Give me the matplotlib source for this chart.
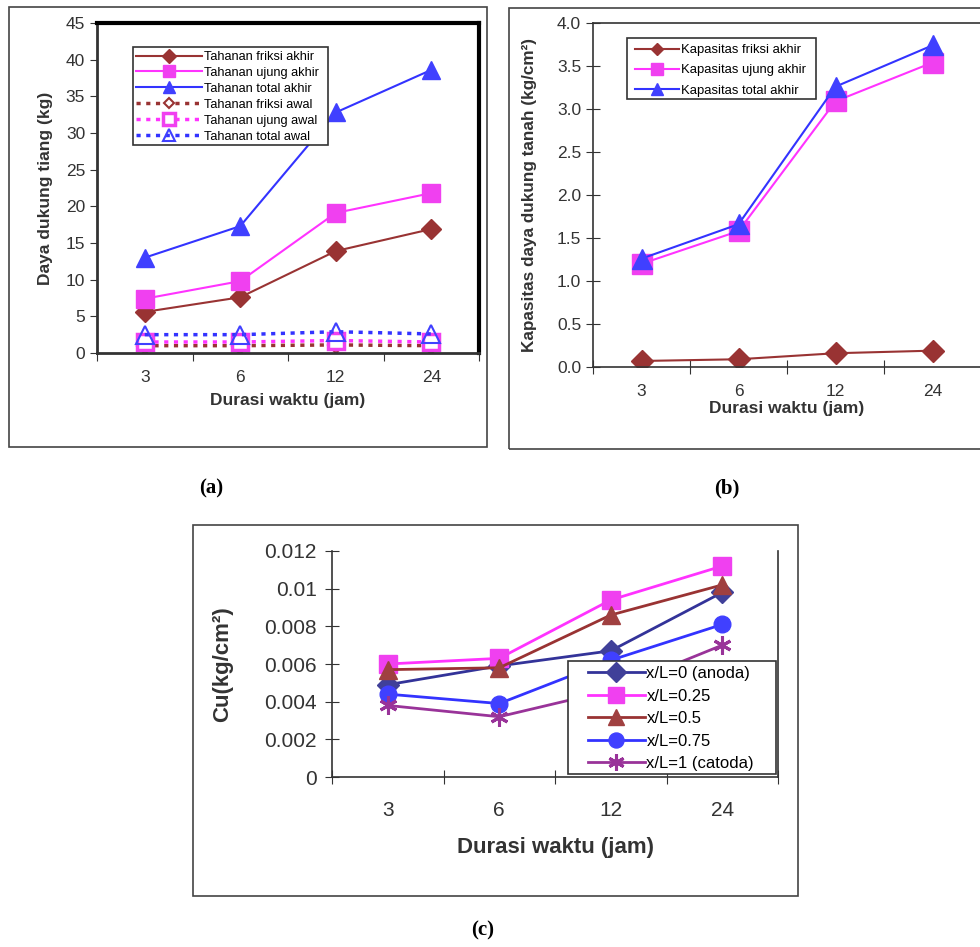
import matplotlib
matplotlib.use("Agg")
import matplotlib.pyplot as plt
from matplotlib.patches import Rectangle

plt.rcParams['font.family'] = ['Liberation Sans', 'DejaVu Sans']

W, H = 980, 947

durasi = ["3", "6", "12", "24"]

# (a) daya dukung tiang (kg)
friksi_akhir = [5.6, 7.6, 13.9, 16.9]
ujung_akhir = [7.4, 9.8, 19.1, 21.8]
total_akhir = [13.0, 17.3, 32.8, 38.6]
friksi_awal = [1.0, 1.0, 1.1, 1.0]
ujung_awal = [1.5, 1.5, 1.7, 1.5]
total_awal = [2.5, 2.5, 2.9, 2.6]

# (b) kapasitas daya dukung tanah (kg/cm2)
kap_friksi = [0.07, 0.09, 0.16, 0.19]
kap_ujung = [1.20, 1.58, 3.09, 3.54]
kap_total = [1.26, 1.66, 3.26, 3.74]

# (c) Cu (kg/cm2)
cu_anoda = [0.0049, 0.0059, 0.0067, 0.0098]
cu_025 = [0.0060, 0.0063, 0.0094, 0.0112]
cu_05 = [0.0057, 0.0058, 0.0086, 0.0102]
cu_075 = [0.0044, 0.0039, 0.0062, 0.0081]
cu_catoda = [0.0038, 0.0032, 0.0046, 0.0070]

BROWN = "#993333"
MAGENTA = "#ff33ff"
BLUE = "#3333ff"
NAVY = "#333399"
PURPLE = "#993399"
GRAY = "#333333"

fig = plt.figure(figsize=(W / 100, H / 100), dpi=100)


def px_axes(l, t, r, b):
    return fig.add_axes([l / W, 1 - b / H, (r - l) / W, (b - t) / H])


def frame(l, t, r, b):
    fig.patches.append(Rectangle((l / W, 1 - b / H), (r - l) / W, (b - t) / H,
                                 transform=fig.transFigure, fill=False,
                                 edgecolor="#444444", lw=1.2, zorder=0))


def boxed_legend(ax, box, anchor, **kw):
    # excel-like legend: white box drawn separately, entries placed inside it
    l, t, r, b = box
    ax.add_patch(Rectangle((l / W, 1 - b / H), (r - l) / W, (b - t) / H,
                           transform=fig.transFigure, facecolor="white", edgecolor=GRAY,
                           lw=1.2, zorder=4.9, clip_on=False))
    ax.legend(loc="upper left", bbox_to_anchor=(anchor[0] / W, 1 - anchor[1] / H),
              bbox_transform=fig.transFigure, frameon=False, borderpad=0,
              borderaxespad=0, handletextpad=0.1, **kw)


def category_axis(ax, fs, pad, tickdir):
    x = range(len(durasi))
    ax.set_xlim(-0.5, len(durasi) - 0.5)
    ax.set_xticks([i - 0.5 for i in range(len(durasi) + 1)])
    ax.set_xticklabels([])
    ax.set_xticks(list(x), minor=True)
    ax.set_xticklabels(durasi, minor=True, fontsize=fs, color=GRAY)
    ax.tick_params(axis="x", which="minor", length=0, pad=pad)
    ax.tick_params(axis="x", which="major", length=6 if tickdir == "out" else 10,
                   direction=tickdir, color=GRAY)
    ax.tick_params(axis="y", length=5 if tickdir == "out" else 10, direction=tickdir,
                   color=GRAY, labelcolor=GRAY)
    return list(x)


# ---------- (a) ----------
frame(9, 7, 487, 447)
ax = px_axes(97, 23, 479, 353)
x = category_axis(ax, 12.5, 12, "out")
ax.plot(x, friksi_akhir, color=BROWN, lw=1.5, marker="D", ms=10, mfc=BROWN, mec=BROWN,
        label="Tahanan friksi akhir")
ax.plot(x, ujung_akhir, color=MAGENTA, lw=1.5, marker="s", ms=13, mfc="#f040f0", mec="#f040f0",
        label="Tahanan ujung akhir")
ax.plot(x, total_akhir, color=BLUE, lw=1.5, marker="^", ms=13, mfc="#4040ff", mec="#4040ff",
        label="Tahanan total akhir")
dots = (0, (1.2, 1.6))
ax.plot(x, friksi_awal, color=BROWN, lw=2.5, ls=dots, marker="D", ms=8, mfc="white",
        mec=BROWN, mew=1.5, label="Tahanan friksi awal")
ax.plot(x, ujung_awal, color=MAGENTA, lw=2.5, ls=dots, marker="s", ms=12, mfc="white",
        mec="#f040f0", mew=2.5, label="Tahanan ujung awal")
ax.plot(x, total_awal, color=BLUE, lw=2.5, ls=dots, marker="^", ms=13, mfc="none",
        mec="#4040ff", mew=1.5, label="Tahanan total awal")
ax.set_ylim(0, 45)
ax.set_yticks(range(0, 46, 5))
ax.tick_params(axis="y", labelsize=12.5)
for s in ("top", "right"):
    ax.spines[s].set_linewidth(3)
    ax.spines[s].set_color("black")
for s in ("left", "bottom"):
    ax.spines[s].set_linewidth(2)
    ax.spines[s].set_color(GRAY)
ax.set_ylabel("Daya dukung tiang (kg)", fontsize=12.5, fontweight="bold", color=GRAY)
ax.yaxis.set_label_coords(-0.115, 0.5)
ax.set_xlabel("Durasi waktu (jam)", fontsize=12.5, fontweight="bold", color=GRAY)
ax.xaxis.set_label_coords(0.5, -0.12)
boxed_legend(ax, (133, 47, 328, 145), (136, 51), fontsize=9.2, handlelength=5.2,
             labelspacing=0.31, markerscale=0.7)

# ---------- (b) ----------
frame(509, 8, 995, 449)
ax = px_axes(593, 23, 981, 367)
x = category_axis(ax, 12.5, 12, "inout")
ax.plot(x, kap_friksi, color=BROWN, lw=1.5, marker="D", ms=11, mfc=BROWN, mec=BROWN,
        label="Kapasitas friksi akhir")
ax.plot(x, kap_ujung, color=MAGENTA, lw=1.5, marker="s", ms=14, mfc="#f040f0", mec="#f040f0",
        label="Kapasitas ujung akhir")
ax.plot(x, kap_total, color=BLUE, lw=1.5, marker="^", ms=14, mfc="#4040ff", mec="#4040ff",
        label="Kapasitas total akhir")
ax.set_ylim(0, 4.0)
ax.set_yticks([i * 0.5 for i in range(9)])
ax.set_yticklabels([f"{i * 0.5:.1f}" for i in range(9)], fontsize=12.5)
ax.spines["right"].set_visible(False)
for s in ("top", "left", "bottom"):
    ax.spines[s].set_linewidth(1.2)
    ax.spines[s].set_color(GRAY)
ax.set_ylabel("Kapasitas daya dukung tanah (kg/cm²)", fontsize=12.3,
              fontweight="bold", color=GRAY)
ax.yaxis.set_label_coords(-0.144, 0.5)
ax.set_xlabel("Durasi waktu (jam)", fontsize=12.5, fontweight="bold", color=GRAY)
ax.xaxis.set_label_coords(0.5, -0.098)
boxed_legend(ax, (627, 38, 816, 99), (635, 44), fontsize=9.4, handlelength=3.4,
             labelspacing=0.62, markerscale=0.6)

# ---------- (c) ----------
frame(193, 525, 798, 896)
ax = px_axes(332, 551, 778, 777)
x = category_axis(ax, 15, 17, "inout")
ax.tick_params(axis="y", pad=6)
ax.plot(x, cu_anoda, color=NAVY, lw=2, marker="D", ms=11, mfc="#404099", mec="#404099",
        label="x/L=0 (anoda)")
ax.plot(x, cu_025, color=MAGENTA, lw=2, marker="s", ms=13, mfc="#f040f0", mec="#f040f0",
        label="x/L=0.25")
ax.plot(x, cu_05, color=BROWN, lw=2, marker="^", ms=13, mfc="#a04040", mec="#a04040",
        label="x/L=0.5")
ax.plot(x, cu_075, color=BLUE, lw=2, marker="o", ms=12, mfc="#4040ff", mec="#4040ff",
        label="x/L=0.75")
ax.plot(x, cu_catoda, color=PURPLE, lw=2, marker=(6, 2, 0), ms=13, mec=PURPLE, mew=2.2,
        label="x/L=1 (catoda)")
ax.set_ylim(0, 0.012)
yt = [0, 0.002, 0.004, 0.006, 0.008, 0.01, 0.012]
ax.set_yticks(yt)
ax.set_yticklabels(["0", "0.002", "0.004", "0.006", "0.008", "0.01", "0.012"], fontsize=15)
ax.spines["top"].set_visible(False)
for s in ("right", "left", "bottom"):
    ax.spines[s].set_linewidth(1.2)
    ax.spines[s].set_color(GRAY)
ax.set_ylabel("Cu(kg/cm²)", fontsize=16, fontweight="bold", color=GRAY)
ax.yaxis.set_label_coords(-0.222, 0.5)
ax.set_xlabel("Durasi waktu (jam)", fontsize=16, fontweight="bold", color=GRAY)
ax.xaxis.set_label_coords(0.5, -0.265)
boxed_legend(ax, (568, 661, 776, 774), (588, 666), fontsize=12, handlelength=3.4,
             labelspacing=0.45, markerscale=0.9)

# panel labels
for txt, cx, cy in (("(a)", 211, 488), ("(b)", 727, 488), ("(c)", 483, 930)):
    fig.text(cx / W, 1 - cy / H, txt, ha="center", va="center", fontsize=15,
             fontweight="bold", family="Liberation Serif")

fig.savefig("out.png", dpi=100)
